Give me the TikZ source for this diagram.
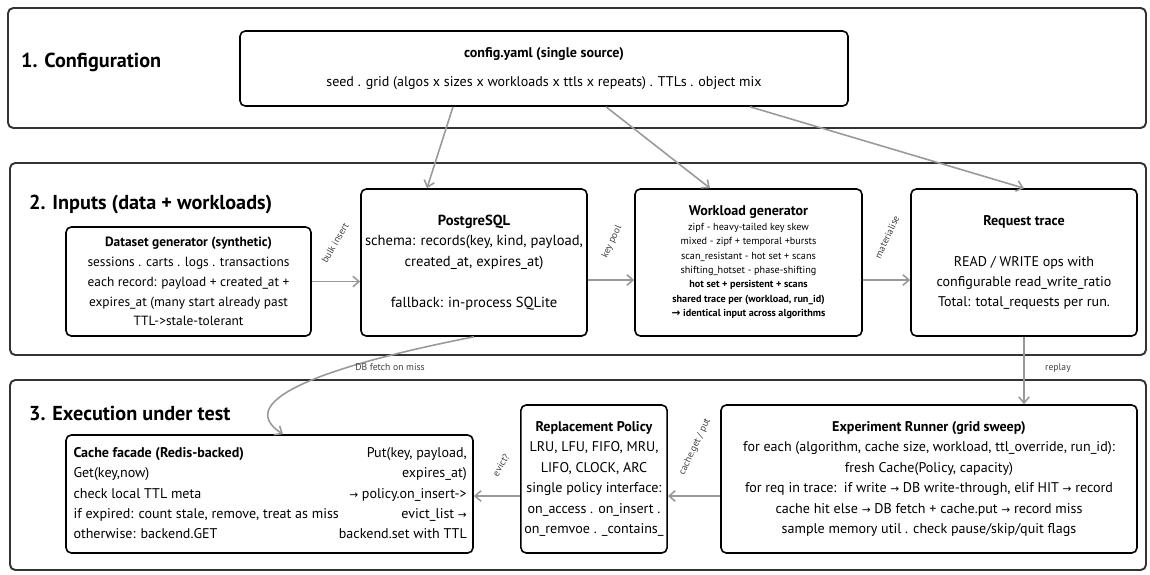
\documentclass[tikz,border=0pt]{standalone}
\usepackage{fontspec}
\setmainfont{PT Sans}
\newfontfamily\symfont{DejaVu Sans}
\usetikzlibrary{positioning, arrows.meta}

\newcommand{\rarr}{{\symfont\fontsize{6}{6}\selectfont →}}

\begin{document}
\begin{tikzpicture}[
band/.style={draw=black!80, line width=1.1pt, rounded corners=3pt},
head/.style={anchor=west, font=\fontsize{11.5}{13}\selectfont\bfseries},
box/.style={draw, line width=0.9pt, rounded corners=3pt, fill=white, align=center, inner sep=2pt, font=\fontsize{8}{11.6}\selectfont},
flow/.style={-{Straight Barb[length=3.5pt, width=6pt]}, draw=black!40, line width=0.9pt},
lab/.style={font=\fontsize{5.5}{6}\selectfont, text=black!75}
]
\useasboundingbox (0,0) rectangle (23,-11.48);

% section bands
\draw[band] (0.16,-0.16) rectangle (22.92,-2.56);
\draw[band] (0.2,-3.26) rectangle (22.92,-7.1);
\draw[band] (0.2,-7.6) rectangle (22.92,-11.4);
\node[head] (h1) at (0.3,-1.24) {1. Configuration};
\node[head] (h2) at (0.46,-4.1) {2. Inputs (data + workloads)};
\node[head] (h3) at (0.46,-8.26) {3. Execution under test};

% boxes
\node[box, minimum width=12.16cm, minimum height=1.5cm] (cfg) at (10.88,-1.37)
  {\textbf{config.yaml (single source)}\\[5pt]
   seed . grid (algos x sizes x workloads x ttls x repeats) . TTLs . object mix};
\node[box, minimum width=4.9cm, minimum height=2.18cm, font=\fontsize{7.6}{11.3}\selectfont] (data) at (3.77,-5.63)
  {\textbf{Dataset generator (synthetic)}\\
   sessions . carts . logs . transactions\\
   each record: payload + created\_at +\\
   expires\_at (many start already past\\
   TTL->stale-tolerant};
\node[box, minimum width=4.52cm, minimum height=2.94cm, font=\fontsize{8.3}{11.6}\selectfont] (pg) at (9.48,-5.25)
  {\textbf{PostgreSQL}\\
   schema: records(key, kind, payload,\\
   created\_at, expires\_at)\\[11.6pt]
   fallback: in-process SQLite};
\node[box, minimum width=4.54cm, minimum height=2.94cm, font=\fontsize{5.8}{8.2}\selectfont] (wl) at (14.97,-5.25)
  {{\fontsize{8}{10}\selectfont\textbf{Workload generator}}\\
   zipf - heavy-tailed key skew\\
   mixed - zipf + temporal +bursts\\
   scan\_resistant - hot set + scans\\
   shifting\_hotset - phase-shifting\\
   \textbf{hot set + persistent + scans}\\
   \textbf{shared trace per (workload, run\_id)}\\
   \textbf{\rarr\ identical input across algorithms}};
\node[box, minimum width=4.52cm, minimum height=2.94cm] (trace) at (20.48,-5.25)
  {\textbf{Request trace}\\[11.6pt]
   READ / WRITE ops with\\
   configurable read\_write\_ratio\\
   Total: total\_requests per run.};
\node[box, minimum width=8.14cm, minimum height=2.36cm, inner sep=4pt] (cache) at (5.39,-9.88)
  {\begin{tabular*}{7.84cm}{@{}l@{\extracolsep{\fill}}r@{}}
   \textbf{Cache facade (Redis-backed)} & Put(key, payload,\\
   Get(key,now) & expires\_at)\\
   check local TTL meta & \rarr\ policy.on\_insert->\\
   if expired: count stale, remove, treat as miss & evict\_list \rarr\\
   otherwise: backend.GET & backend.set with TTL
   \end{tabular*}};
\node[box, minimum width=2.88cm, minimum height=2.96cm] (policy) at (11.88,-9.58)
  {\textbf{Replacement Policy}\\
   LRU, LFU, FIFO, MRU,\\
   LIFO, CLOCK, ARC\\
   single policy interface:\\
   on\_access . on\_insert .\\
   on\_remvoe . \_contains\_};
\node[box, minimum width=8.32cm, minimum height=2.96cm] (runner) at (18.58,-9.58)
  {\textbf{Experiment Runner (grid sweep)}\\
   for each (algorithm, cache size, workload, ttl\_override, run\_id):\\
   fresh Cache(Policy, capacity)\\
   for req in trace:\ \ if write \rarr\ DB write-through, elif HIT \rarr\ record\\
   cache hit else \rarr\ DB fetch + cache.put \rarr\ record miss\\
   sample memory util . check pause/skip/quit flags};

% connectors
\draw[flow] ([xshift=-1.82cm]cfg.south) -- ([xshift=-0.94cm]pg.north);
\draw[flow] ([xshift=1.24cm]cfg.south) -- ([xshift=-0.77cm]wl.north);
\draw[flow] ([xshift=4.12cm]cfg.south) -- (trace.north);
\draw[flow] (data.east) -- (data.east -| pg.west);
\draw[flow] ([yshift=-0.35cm]pg.east) -- ([yshift=-0.35cm]wl.west);
\draw[flow] ([yshift=-0.35cm]wl.east) -- ([yshift=-0.35cm]trace.west);
\draw[flow] (trace.south) -- (trace.south |- runner.north);
\draw[flow] ([yshift=-0.34cm]runner.west) -- ([yshift=-0.34cm]policy.east);
\draw[flow] ([yshift=-0.34cm]policy.west) -- ([yshift=-0.34cm]policy.west -| cache.east);
\draw[flow] (pg.south) .. controls (6.6,-7.3) and (4.6,-8.0) .. ([xshift=0.27cm]cache.north);

% connector labels
\node[lab, rotate=60] (l1) at (6.7,-4.86) {bulk insert};
\node[lab, rotate=65] (l2) at (12.24,-4.84) {key pool};
\node[lab, rotate=65] (l3) at (17.74,-4.74) {materialise};
\node[lab] (l4) at (21.16,-7.36) {replay};
\node[lab] (l5) at (7.8,-7.34) {DB fetch on miss};
\node[lab, rotate=65] (l6) at (13.9,-8.94) {cache.get / put};
\node[lab, rotate=60] (l7) at (10.02,-9.3) {evict?};
\end{tikzpicture}
\end{document}
